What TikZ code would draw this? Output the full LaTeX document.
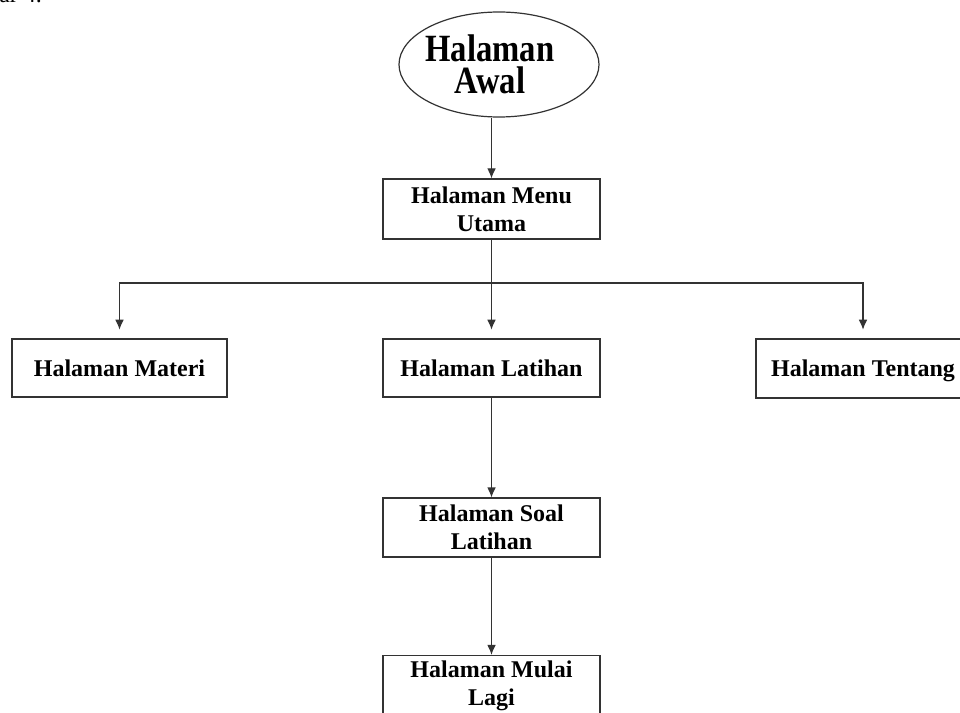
\documentclass[tikz,border=0pt]{standalone}
\usepackage{fontspec}
\setmainfont{Liberation Serif}
\usetikzlibrary{arrows.meta,shapes.geometric}
\tikzset{
  pagebox/.style={draw=black!80, line width=0.9pt, rectangle, align=center,
    font=\bfseries\fontsize{18}{21}\selectfont, inner sep=0pt},
  conn/.style={draw=black!80, line width=0.9pt},
  arr/.style={conn, -{Latex[length=7.5pt,width=6.5pt]}},
}
\begin{document}
\begin{tikzpicture}[x=0.75pt,y=-0.75pt]
\useasboundingbox (0,0) rectangle (960,713);
\clip (0,0) rectangle (960,713);
\fill[white] (0,0) rectangle (960,713);
% cut caption fragment
\node[anchor=base west, inner sep=0pt, font=\fontsize{18}{21}\selectfont] (cap) at (-1,3) {ar 4.};
% start ellipse
\node[ellipse, draw=black!80, line width=0.9pt, minimum width=150pt, minimum height=78.75pt, inner sep=0pt] (awal) at (499,64.5) {};
\node[inner sep=0pt] (awaltext) at (490,64.5) {\scalebox{1}[1.18]{\parbox{4cm}{\centering\bfseries\fontsize{24.5}{20}\selectfont Halaman\\Awal}}};
% boxes
\node[pagebox, minimum width=162.75pt, minimum height=45pt] (menu) at (491.5,209) {Halaman Menu\\Utama};
\node[pagebox, minimum width=161.25pt, minimum height=43.5pt] (materi) at (119.5,368) {Halaman Materi};
\node[pagebox, minimum width=162.75pt, minimum height=43.5pt] (latihan) at (491.5,368) {Halaman Latihan};
\node[pagebox, minimum width=160.5pt, minimum height=44.25pt] (tentang) at (863,368.5) {\raisebox{0pt}[\height][0pt]{Halaman Tentang}};
\node[pagebox, minimum width=162.75pt, minimum height=44.25pt] (soal) at (491.5,527.5) {Halaman Soal\\Latihan};
\node[pagebox, minimum width=162.75pt, minimum height=45pt] (mulai) at (491.5,685.5) {Halaman Mulai\\Lagi};
% connectors
\coordinate (bus) at (491.5,283);
\draw[arr] (awal.south -| menu.north) -- (menu.north);
\draw[conn] (menu.south) -- (bus);
\draw[arr, shorten >=6.5pt] (bus) -- (latihan.north);
\draw[arr, shorten >=6.5pt] (bus) -| (materi.north);
\draw[arr, shorten >=6.5pt] (bus) -| (tentang.north);
\draw[arr] (latihan.south) -- (soal.north);
\draw[arr] (soal.south) -- (mulai.north);
\end{tikzpicture}
\end{document}
